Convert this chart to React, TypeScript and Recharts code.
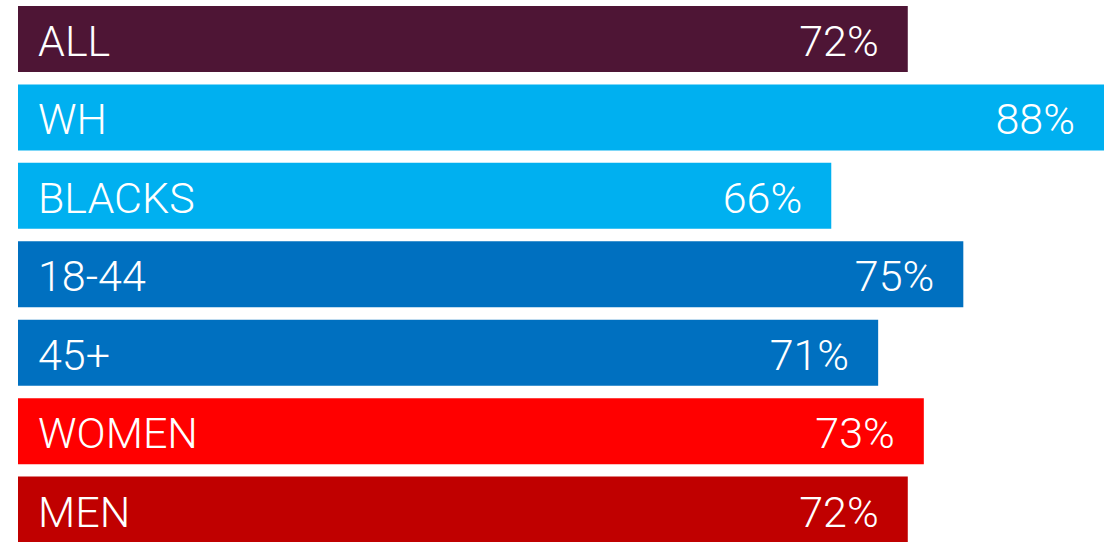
import React from "react";
import { BarChart, Bar, XAxis, YAxis, Cell, LabelList } from "recharts";

const categories = ["ALL", "WH", "BLACKS", "18-44", "45+", "WOMEN", "MEN"];
const barValues = [72.1, 88, 65.9, 76.6, 69.7, 73.4, 72.1];
const valueLabels = ["72%", "88%", "66%", "75%", "71%", "73%", "72%"];
const barColors = ["#4E1535", "#00B0F0", "#00B0F0", "#0070C0", "#0070C0", "#FF0000", "#C00000"];

const data = categories.map((name, i) => ({
  name,
  value: barValues[i],
  label: valueLabels[i],
}));

const FONT = "Roboto, 'Noto Sans', sans-serif";

const NameLabel = (props: any) => {
  const { x, y, height, index } = props;
  return (
    <text
      x={Number(x) + 20}
      y={Number(y) + Number(height) / 2 + 17}
      fill="#FFFFFF"
      fontSize={43}
      fontWeight={300}
      fontFamily={FONT}
      textAnchor="start"
    >
      {categories[index]}
    </text>
  );
};

const ValueLabel = (props: any) => {
  const { x, y, width, height, index } = props;
  return (
    <text
      x={Number(x) + Number(width) - 29}
      y={Number(y) + Number(height) / 2 + 17}
      fill="#FFFFFF"
      fontSize={43}
      fontWeight={300}
      fontFamily={FONT}
      textAnchor="end"
    >
      {valueLabels[index]}
    </text>
  );
};

export default function App() {
  return (
    <div
      style={{
        position: "absolute",
        left: 0,
        top: 0,
        width: 1114,
        height: 542,
        overflow: "hidden",
        background: "#FFFFFF",
      }}
    >
      <BarChart
        width={1114}
        height={549}
        data={data}
        layout="vertical"
        margin={{ top: 0, right: 10, bottom: 0, left: 18 }}
        barCategoryGap={6}
      >
        <XAxis type="number" domain={[0, 88]} hide />
        <YAxis type="category" dataKey="name" hide />
        <Bar dataKey="value" isAnimationActive={false}>
          {data.map((d, i) => (
            <Cell key={d.name} fill={barColors[i]} />
          ))}
          <LabelList dataKey="name" content={NameLabel} />
          <LabelList dataKey="label" content={ValueLabel} />
        </Bar>
      </BarChart>
    </div>
  );
}
